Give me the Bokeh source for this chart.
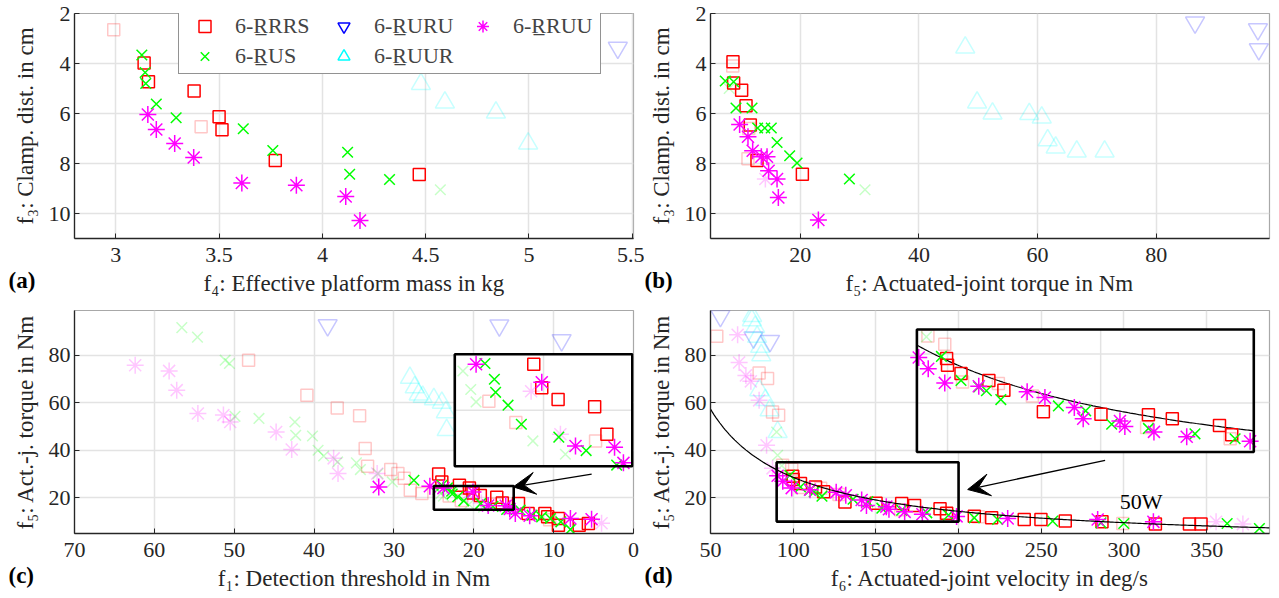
import numpy as np
from bokeh.plotting import figure
from bokeh.models import (Range1d, Legend, LegendItem, Label, Arrow, VeeHead, Title,
                          FixedTicker, NumeralTickFormatter)
from bokeh.layouts import column, row
from bokeh.embed import file_html
from bokeh.resources import INLINE

FONT = "Liberation Serif"

# ---------------- panel (a): f4 effective platform mass (kg) vs f3 clamp dist (cm)
a_rrrs_x = [3.137, 3.158, 3.379, 3.500, 3.514, 3.772, 4.469]
a_rrrs_y = [3.98, 4.73, 5.10, 6.13, 6.65, 7.88, 8.44]
a_rrrs_fx = [2.99, 3.413]
a_rrrs_fy = [2.65, 6.53]
a_rus_x = [3.126, 3.142, 3.145, 3.196, 3.292, 3.617, 3.760, 4.122, 4.132, 4.325]
a_rus_y = [3.66, 4.36, 4.80, 5.62, 6.17, 6.61, 7.48, 7.55, 8.43, 8.64]
a_rus_fx = [4.571]
a_rus_fy = [9.05]
a_rruu_x = [3.155, 3.196, 3.285, 3.377, 3.610, 3.874, 4.113, 4.182]
a_rruu_y = [6.04, 6.64, 7.20, 7.76, 8.78, 8.87, 9.32, 10.28]
a_ruur_fx = [4.477, 4.593, 4.840, 4.996]
a_ruur_fy = [4.82, 5.56, 5.96, 7.20]
a_ruru_fx = [5.43]
a_ruru_fy = [3.37]

# ---------------- panel (b): f5 actuated-joint torque (Nm) vs f3 clamp dist (cm)
b_rrrs_x = [8.64, 8.75, 10.1, 10.84, 11.56, 12.69, 20.34]
b_rrrs_y = [3.93, 4.78, 5.07, 5.69, 6.46, 7.88, 8.43]
b_rrrs_fx = [8.6, 11.17, 11.3]
b_rrrs_fy = [4.1, 7.81, 6.6]
b_rus_x = [7.34, 8.75, 9.15, 11.85, 12.8, 14.0, 15.1, 16.07, 18.2, 19.44, 28.27]
b_rus_y = [4.70, 4.73, 5.78, 5.78, 6.58, 6.58, 6.58, 7.16, 7.69, 7.98, 8.62]
b_rus_fx = [30.9, 8.0]
b_rus_fy = [9.05, 5.0]
b_rruu_x = [9.76, 11.17, 11.96, 13.42, 14.38, 14.65, 16.07, 16.29, 23.04]
b_rruu_y = [6.44, 6.93, 7.49, 7.73, 7.73, 8.29, 8.62, 9.36, 10.26]
b_rruu_fx = [14.1]
b_rruu_fy = [8.62]
b_ruur_fx = [47.8, 49.8, 52.4, 58.6, 60.7, 61.7, 63.05, 66.6, 71.3]
b_ruur_fy = [3.36, 5.56, 6.0, 6.02, 6.16, 7.07, 7.36, 7.52, 7.52]
b_ruru_fx = [86.55, 97.15, 97.3]
b_ruru_fy = [2.36, 2.63, 3.43]

# ---------------- panel (c): f1 detection threshold (Nm) vs f5 torque (Nm)
c_rrrs_x = [24.4, 24.0, 21.8, 20.55, 20.1, 19.18, 17.12, 16.43, 14.4, 13.2, 11.1, 10.75, 9.4, 9.4, 6.8, 5.65]
c_rrrs_y = [30.0, 26.7, 25.3, 24.1, 22.0, 20.95, 20.3, 17.86, 17.6, 13.4, 13.4, 12.0, 11.3, 8.5, 8.5, 9.2]
c_rrrs_fx = [48.2, 40.9, 37.1, 34.3, 33.6, 33.3, 30.4, 29.5, 28.7, 27.95, 26.5, 23.08, 21.56, 17.07, 10.5]
c_rrrs_fy = [77.9, 63.2, 57.8, 54.5, 40.8, 33.3, 31.9, 30.2, 28.2, 23.2, 21.8, 20.8, 18.9, 17.26, 10.8]
c_rus_x = [27.5, 24.0, 23.3, 22.77, 22.7, 22.0, 21.25, 19.14, 17.6, 15.88, 14.2, 12.7, 11.5, 10.4, 9.1, 7.9]
c_rus_y = [27.4, 25.3, 24.17, 22.77, 21.6, 20.45, 18.75, 17.6, 16.4, 15.1, 14.8, 12.7, 12.0, 11.3, 9.9, 6.7]
c_rus_fx = [56.56, 54.6, 51.13, 50.6, 49.9, 46.9, 42.4, 42.3, 40.2, 39.5, 38.8, 37.05, 34.7, 34.2, 32.0,
            30.2, 24.54, 24.1, 23.8, 20.6, 18.77]
c_rus_fy = [91.6, 87.6, 77.9, 76.5, 54.3, 53.4, 51.9, 46.3, 46.0, 40.0, 37.6, 35.1, 34.7, 31.9, 30.2,
            26.7, 23.5, 21.85, 20.74, 17.26, 16.07]
c_rruu_x = [31.9, 25.5, 23.8, 20.1, 18.2, 16.0, 15.5, 14.8, 13.0, 7.9, 5.25]
c_rruu_y = [24.6, 24.9, 24.1, 22.5, 16.8, 16.7, 15.3, 13.4, 12.5, 11.3, 11.0]
c_rruu_fx = [62.4, 58.15, 57.2, 54.55, 51.35, 50.5, 44.75, 42.8, 37.55, 37.0, 32.1, 20.7, 19.05, 4.0]
c_rruu_fy = [75.8, 73.4, 65.3, 55.5, 54.8, 51.9, 47.7, 40.3, 36.6, 30.2, 30.2, 21.7, 17.86, 9.3]
c_ruur_fx = [28.0, 27.4, 26.9, 26.4, 25.0, 24.0, 23.5, 23.4]
c_ruur_fy = [70.5, 66.5, 63.5, 62.5, 61.5, 60.0, 56.0, 48.5]
c_ruru_fx = [38.3, 16.8, 9.0]
c_ruru_fy = [92.6, 92.5, 86.3]

# ---------------- panel (d): f6 actuated-joint velocity (deg/s) vs f5 torque (Nm)
d_rrrs_x = [99.7, 100.0, 104.4, 113.5, 118.4, 131.3, 150.1, 165.6, 173.4, 188.8, 192.8,
            209.5, 220.0, 239.7, 249.8, 264.5, 286.7, 319.0, 339.6, 346.6]
d_rrrs_y = [29.06, 27.7, 26.0, 24.6, 22.6, 18.2, 17.7, 17.6, 16.8, 15.4, 13.5,
            12.3, 11.6, 10.9, 10.9, 10.3, 9.9, 8.95, 8.95, 8.95]
d_rrrs_fx = [53.8, 79.4, 84.5, 87.5, 91.2, 93.6, 99.1, 104.9, 116.6, 127.7, 165.0, 192.3, 212.0, 299.3]
d_rrrs_fy = [88.0, 72.5, 70.2, 56.1, 54.7, 33.7, 32.0, 24.3, 24.0, 21.4, 15.0, 12.7, 12.0, 9.2]
d_rus_x = [98.0, 104.4, 110.2, 112.7, 117.4, 136.2, 145.1, 153.6, 165.6, 180.8, 193.9,
           209.5, 223.6, 256.9, 286.1, 299.9, 362.4, 381.9]
d_rus_y = [29.5, 24.6, 23.3, 22.5, 20.7, 19.4, 18.4, 15.65, 14.8, 13.7, 12.7,
           11.6, 10.9, 10.2, 9.5, 9.2, 9.2, 7.1]
d_rus_fx = [90.0, 90.6, 93.1]
d_rus_fy = [47.7, 37.9, 33.5]
d_rruu_x = [90.6, 93.7, 99.1, 110.2, 126.0, 131.8, 141.4, 144.3, 156.3, 157.9, 167.4, 178.1, 198.8,
            229.7, 284.1, 317.8]
d_rruu_y = [29.3, 27.0, 24.1, 23.4, 22.3, 21.1, 19.1, 16.8, 16.3, 15.2, 14.1, 13.1, 12.2,
            11.3, 10.9, 9.9]
d_rruu_fx = [66.4, 67.3, 71.4, 74.4, 79.4, 83.9, 87.5, 355.7, 371.9]
d_rruu_fy = [88.6, 76.9, 71.5, 69.0, 61.0, 42.1, 32.4, 9.9, 8.95]
d_ruur_fx = [75.2, 75.0, 77.0, 78.2, 80.0, 80.7, 79.5, 83.2, 85.7, 90.6]
d_ruur_fy = [96.5, 94.7, 91.9, 87.7, 83.5, 80.0, 65.3, 61.1, 56.8, 47.7]
d_ruru_fx = [56.0, 76.0, 86.0]
d_ruru_fy = [96.5, 87.5, 86.0]

POWER_W = 50.0  # iso-power line in panel (d)

SERIES = ["RRRS", "RUS", "RURU", "RUUR", "RRUU"]
LABELS = {"RRRS": "6-R\u0332RRS", "RUS": "6-R\u0332US", "RURU": "6-R\u0332URU",
          "RUUR": "6-R\u0332UUR", "RRUU": "6-R\u0332RUU"}
STYLE = {"RRRS": ("square", "#ff0000", 12),
         "RUS": ("x", "#00ff00", 15),
         "RURU": ("inverted_triangle", "#0000ff", 19),
         "RUUR": ("triangle", "#00ffff", 19),
         "RRUU": ("asterisk", "#ff00ff", 17)}
FADE = 0.22
GRID = "#e3e3e3"


def scatter(p, xs, ys, key, alpha, **kw):
    if len(xs) == 0:
        return None
    m, c, s = STYLE[key]
    return p.scatter(list(xs), list(ys), marker=m, size=s, line_color=c, fill_color=None,
                     line_width=1.5, line_alpha=alpha, **kw)


def mkfig(xr, yr, fh, left, right, top, bottom):
    p = figure(x_range=Range1d(*xr), y_range=Range1d(*yr), frame_width=559, frame_height=fh,
               min_border_left=left, min_border_right=right, min_border_top=top,
               min_border_bottom=bottom, output_backend="svg", toolbar_location=None)
    p.background_fill_color = "white"
    p.border_fill_color = "white"
    p.outline_line_color = "#a8a8a8"
    p.outline_line_width = 1.2
    p.grid.grid_line_color = GRID
    p.grid.grid_line_width = 1.5
    for ax in (p.xaxis[0], p.yaxis[0]):
        ax.axis_label_text_font = FONT
        ax.axis_label_text_font_size = "23px"
        ax.axis_label_text_font_style = "normal"
        ax.axis_label_text_color = "#262626"
        ax.major_label_text_font = FONT
        ax.major_label_text_font_size = "22px"
        ax.major_label_text_color = "#262626"
        ax.axis_line_color = "#262626"
        ax.axis_line_width = 1.3
        ax.major_tick_line_color = "#262626"
        ax.major_tick_in = 5
        ax.major_tick_out = 0
        ax.minor_tick_line_color = None
        ax.formatter = NumeralTickFormatter(format="0.[0]")
    p.xaxis.major_label_standoff = 9
    p.xaxis.axis_label_standoff = 6
    p.yaxis.major_label_standoff = 4
    p.yaxis.axis_label_standoff = 8
    return p


def panel_label(p, text, offset, standoff):
    # bold panel tag, placed in the strip below the x axis and pulled up beside its label
    p.add_layout(Title(text=text, align="left", offset=offset, standoff=standoff,
                       vertical_align="top", text_font=FONT, text_font_size="23px",
                       text_font_style="bold", text_color="black"), "below")


def remap(v, s0, s1, d0, d1):
    return d0 + (np.asarray(v, dtype=float) - s0) * (d1 - d0) / (s1 - s0)


def draw_inset(p, groups, box, ins, gx, gy, curve=None):
    bx0, bx1, by0, by1 = box
    ix0, ix1, iy0, iy1 = ins
    L, R = min(ix0, ix1), max(ix0, ix1)
    p.quad(left=[L], right=[R], bottom=[iy0], top=[iy1], fill_color="white", line_color=None)
    for g in gx:
        X = float(remap(g, bx0, bx1, ix0, ix1))
        p.segment(x0=[X], y0=[iy0], x1=[X], y1=[iy1], line_color=GRID, line_width=1.5)
    for g in gy:
        Y = float(remap(g, by0, by1, iy0, iy1))
        p.segment(x0=[L], y0=[Y], x1=[R], y1=[Y], line_color=GRID, line_width=1.5)
    if curve is not None:
        cx, cy = curve
        p.line(remap(cx, bx0, bx1, ix0, ix1), remap(cy, by0, by1, iy0, iy1),
               line_color="black", line_width=1.2)
    for xs, ys, key, alpha in groups:
        xs = np.asarray(xs, dtype=float)
        ys = np.asarray(ys, dtype=float)
        m = (xs >= bx0) & (xs <= bx1) & (ys >= by0) & (ys <= by1)
        if m.any():
            scatter(p, remap(xs[m], bx0, bx1, ix0, ix1), remap(ys[m], by0, by1, iy0, iy1), key, alpha)
    p.quad(left=[L], right=[R], bottom=[iy0], top=[iy1], fill_color=None,
           line_color="black", line_width=2.6)
    p.quad(left=[bx0], right=[bx1], bottom=[by0], top=[by1], fill_color=None,
           line_color="black", line_width=2.6)


def groups_of(prefix):
    g = globals()
    faded, full = [], []
    for k in SERIES:
        n = prefix + "_" + k.lower()
        if n + "_fx" in g:
            faded.append((g[n + "_fx"], g[n + "_fy"], k, FADE))
        if n + "_x" in g:
            full.append((g[n + "_x"], g[n + "_y"], k, 1.0))
    return faded + full


# ---------------- build figures
pa = mkfig((2.8, 5.506), (11.0, 2.0), 225, 74, 11, 13, 62)
pa.xaxis.ticker = FixedTicker(ticks=[3, 3.5, 4, 4.5, 5, 5.5])
pa.yaxis.ticker = FixedTicker(ticks=[2, 4, 6, 8, 10])
pa.xaxis.axis_label = "f\u2084: Effective platform mass in kg"
pa.yaxis.axis_label = "f\u2083: Clamp. dist. in cm"

pb = mkfig((4.85, 99.1), (11.0, 2.0), 225, 66, 2, 13, 62)
pb.xaxis.ticker = FixedTicker(ticks=[20, 40, 60, 80])
pb.yaxis.ticker = FixedTicker(ticks=[2, 4, 6, 8, 10])
pb.xaxis.axis_label = "f\u2085: Actuated-joint torque in Nm"
pb.yaxis.axis_label = "f\u2083: Clamp. dist. in cm"

pc = mkfig((70.0, 0.0), (5.0, 98.8), 223, 74, 11, 10, 57)
pc.xaxis.ticker = FixedTicker(ticks=[70, 60, 50, 40, 30, 20, 10, 0])
pc.yaxis.ticker = FixedTicker(ticks=[20, 40, 60, 80])
pc.xaxis.axis_label = "f\u2081: Detection threshold in Nm"
pc.yaxis.axis_label = "f\u2085: Act.-j. torque in Nm"

pd_ = mkfig((50.0, 388.0), (5.0, 98.8), 223, 66, 2, 10, 57)
pd_.xaxis.ticker = FixedTicker(ticks=[50, 100, 150, 200, 250, 300, 350])
pd_.yaxis.ticker = FixedTicker(ticks=[20, 40, 60, 80])
pd_.xaxis.axis_label = "f\u2086: Actuated-joint velocity in deg/s"
pd_.yaxis.axis_label = "f\u2085: Act.-j. torque in Nm"

for p, prefix in ((pa, "a"), (pb, "b"), (pc, "c"), (pd_, "d")):
    for xs, ys, key, alpha in groups_of(prefix):
        scatter(p, xs, ys, key, alpha)

# iso-power curve in (d): torque = P / omega
vel = np.linspace(50.0, 388.0, 300)
torque = POWER_W / np.deg2rad(vel)
pd_.line(vel, torque, line_color="black", line_width=1.2)

# insets
draw_inset(pc, groups_of("c"), (15.0, 25.0, 15.0, 25.0), (0.15, 22.38, 33.3, 80.4), [20], [20])
vel_i = np.linspace(90.0, 200.0, 200)
draw_inset(pd_, groups_of("d"), (90.0, 200.0, 10.0, 35.0), (174.8, 378.5, 39.3, 90.8),
           [100, 150], [20, 30], curve=(vel_i, POWER_W / np.deg2rad(vel_i)))

pc.add_layout(Arrow(x_start=5.24, y_start=29.96, x_end=15.06, y_end=24.6, line_width=1.3,
                    end=VeeHead(size=22, fill_color="black", line_color="black")))
pd_.add_layout(Arrow(x_start=288.6, y_start=35.8, x_end=205.5, y_end=23.5, line_width=1.3,
                     end=VeeHead(size=22, fill_color="black", line_color="black")))
pd_.add_layout(Label(x=310.4, y=18.4, text="50W", text_font=FONT, text_font_size="22px",
                     text_align="center", text_baseline="middle", text_color="black"))

# legend (in panel a): key-only renderers holding a single NaN placeholder (draw nothing)
items = []
for k in SERIES:
    r = scatter(pa, [float("nan")], [float("nan")], k, 1.0)
    items.append(LegendItem(label=LABELS[k], renderers=[r]))
leg = Legend(items=items, nrows=2, location=(104, 164), label_text_font=FONT,
             label_text_font_size="22px", glyph_width=47, glyph_height=30, label_standoff=7,
             label_width=85, spacing=-4, padding=2, margin=0, border_line_color="#262626",
             border_line_width=1.5, background_fill_color="white", background_fill_alpha=1.0)
pa.add_layout(leg)

panel_label(pa, "(a)", -66, -62)
panel_label(pb, "(b)", -66, -62)
panel_label(pc, "(c)", -66, -62)
panel_label(pd_, "(d)", -66, -62)

layout = column(row(pa, pb), row(pc, pd_))
open("out.html", "w").write(file_html(layout, INLINE))
